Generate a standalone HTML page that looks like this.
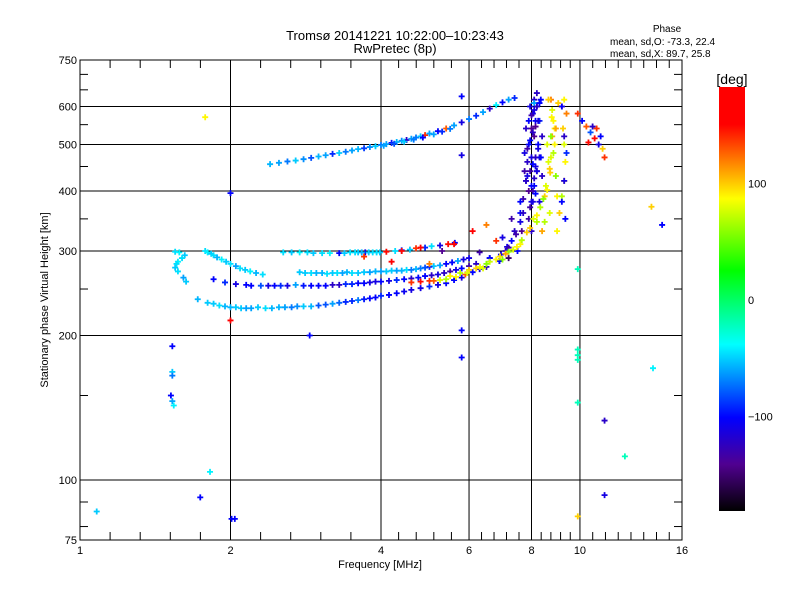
<!DOCTYPE html>
<html><head><meta charset="utf-8"><style>
body{margin:0;background:#fff}
svg{font-family:"Liberation Sans","DejaVu Sans",sans-serif}
</style></head><body>
<svg id="chart" width="800" height="600" viewBox="0 0 800 600" xmlns="http://www.w3.org/2000/svg">
<defs>
<linearGradient id="cb" x1="0" y1="1" x2="0" y2="0">
<stop offset="0" stop-color="#000000"/>
<stop offset="0.11" stop-color="#500090"/>
<stop offset="0.22" stop-color="#0000ff"/>
<stop offset="0.393" stop-color="#00ffff"/>
<stop offset="0.567" stop-color="#00ff00"/>
<stop offset="0.737" stop-color="#ffff00"/>
<stop offset="0.912" stop-color="#ff0000"/>
<stop offset="1" stop-color="#ff0000"/>
</linearGradient>
</defs>
<text x="395" y="40" font-size="13" text-anchor="middle">Tromsø 20141221 10:22:00–10:23:43</text>
<text x="395" y="53" font-size="13" text-anchor="middle">RwPretec (8p)</text>
<text x="667" y="32" font-size="10" text-anchor="middle">Phase</text>
<text x="610" y="45" font-size="10">mean, sd,O: -73.3, 22.4</text>
<text x="610" y="57" font-size="10">mean, sd,X:  89.7, 25.8</text>
<g id="grid"></g>
<g id="marks"></g>
<rect x="80" y="60" width="602" height="480" fill="none" stroke="#000" stroke-width="1"/>
<g id="axes"></g>
<text x="380" y="568" font-size="11" text-anchor="middle">Frequency [MHz]</text>
<text transform="translate(48,300) rotate(-90)" font-size="11" text-anchor="middle">Stationary phase Virtual Height [km]</text>
<rect x="719" y="87" width="26" height="424" fill="url(#cb)"/>
<text x="732" y="84" font-size="14" text-anchor="middle">[deg]</text>
<g id="cbticks"></g>
</svg>
<script>
const xTicks=[1,2,4,6,8,10,16];
const xGrid=[2,4,6,8,10];
const yTicks=[75,100,200,300,400,500,600,750];
const yGrid=[100,200,300,400,500,600];
const yMinor=[80,90,150,250,350,450,550,650,700];
const cbTicks=[100,0,-100];

const upperF=[2.4,2.5,2.6,2.7,2.8,2.9,3.0,3.1,3.2,3.3,3.4,3.5,3.6,3.7,3.8,3.9,4.0,4.1,4.2,4.3,4.4,4.5,4.6,4.7,4.8,4.9,5.0,5.2,5.4,5.6,5.8,6.0,6.2,6.4,6.6,6.8,7.0,7.2,7.4,4.05,4.25,4.45,4.65,4.85,5.1,5.3,5.5];
const upperH=[455,458,461,463,466,469,472,475,478,480,483,486,489,491,494,496,499,501,504,506,509,511,514,517,520,523,527,533,540,548,556,565,574,584,594,604,612,620,625,497,502,507,512,517,525,532,539];
const upperP=[-55,-60,-70,-50,-65,-80,-55,-60,-90,-50,-70,-60,-55,-85,-65,-50,-70,-60,-95,-55,-65,-120,-60,-70,-50,140,-60,-100,130,-60,-110,-70,-90,-60,-120,-40,-100,-60,-90,-60,-80,-50,-70,-100,-60,-90,-70];

const cuspF=[1.55,1.58,1.62,1.60,1.57,1.55,1.57,1.61,1.63,1.56,1.78,1.80,1.83,1.85,1.88,1.92,1.96,2.0,2.05,2.09,2.14,2.19,2.25,2.32];
const cuspH=[299,298,294,290,285,277,272,264,259,282,300,298,296,294,291,288,285,282,279,276,274,272,270,268];
const cuspP=[-45,-40,-50,-45,-40,-50,-45,-60,-50,-45,-45,-40,-50,-45,-55,-40,-50,-45,-60,-45,-50,-40,-55,-45];

const row1F=[2.55,2.65,2.75,2.85,2.93,3.05,3.16,3.3,3.47,3.6,3.72,3.85,3.98,4.1,4.27,4.4,4.57,4.7,4.9,5.05,5.25,5.45,5.62,3.38,3.55,3.66,3.78,3.92];
const row1H=[298,298,298,298,297,297,297,297,298,298,298,298,298,299,300,301,302,304,305,307,308,310,312,297,298,298,298,298];
const row1P=[-45,-50,-40,-45,-50,-45,-40,-100,-45,-50,-110,-45,-50,150,-45,-100,-50,140,-90,-45,-110,150,-100,-50,-45,-55,-50,-45];

const row2F=[2.75,2.9,3.05,3.2,3.35,3.5,3.7,3.9,4.1,4.3,4.5,4.7,4.9,5.1,5.4,5.7,6.0,3.12,3.42,3.8,4.2,4.6,2.82,2.97,3.27,3.6,4.0,4.4,4.8,5.0,5.25,5.55,5.85];
const row2H=[271,270,270,270,270,270,271,272,272,273,274,275,277,279,282,286,290,269,271,271,273,274,270,270,270,270,272,273,276,278,280,284,288];
const row2P=[-50,-45,-55,-50,-60,-45,-50,-55,-50,-60,-45,-55,-80,-50,-100,-60,-110,-45,-55,-60,-50,-70,-50,-55,-45,-50,-60,-55,-70,-90,-60,-100,-110];

const row3F=[1.85,1.95,2.05,2.15,2.3,2.45,2.6,2.8,3.0,3.2,3.4,3.6,3.8,4.0,4.3,4.6,4.9,5.2,5.5,5.8,6.2,6.6,2.7,3.1,3.5,3.9,4.45,5.05,2.2,2.38,2.52,2.9,3.3,3.7,4.15,4.75,5.35,5.65,6.0];
const row3H=[262,258,256,255,254,254,254,254,254,255,256,257,258,259,261,263,266,268,272,276,282,290,255,254,256,259,262,267,254,254,254,254,255,257,260,264,270,274,279];
const row3P=[-100,-90,-110,-100,-80,-100,-110,-95,-100,-120,-90,-100,-110,-100,-90,-120,-100,-110,-130,-100,-120,-110,-60,-100,-90,-110,-100,-120,-100,-110,-90,-100,-120,-100,-110,-100,-120,-110,-130];

const row4F=[1.72,1.8,1.9,2.0,2.1,2.2,2.35,2.5,2.65,2.8,3.0,3.2,3.4,3.6,3.8,4.0,4.3,4.6,5.0,5.4,5.8,6.1,6.5,6.9,2.27,2.57,2.9,3.3,3.7,4.15,4.8,5.6,1.85,1.95,2.05,2.15,2.42,2.72,3.1,3.5,3.9,4.45,5.2,6.3];
const row4H=[238,234,231,229,228,228,228,229,229,230,231,233,235,237,239,242,245,249,253,257,264,271,278,286,229,229,230,234,238,243,251,261,233,230,229,228,228,230,232,236,240,247,255,275];
const row4P=[-55,-50,-45,-55,-50,-60,-45,-55,-70,-50,-80,-60,-90,-70,-100,-90,-100,-110,-90,-100,-110,-100,-120,-100,-50,-60,-55,-75,-95,-100,-110,-100,-50,-55,-50,-60,-55,-65,-80,-90,-100,-105,-110,-110];

const oRiseF=[6.9,7.15,7.4,7.6,7.7,7.8,7.85,7.9,8.0,8.05,8.1,6.6,7.0,7.3,7.6,7.8,8.0,8.1,8.15,8.2,7.9,8.0,8.1,8.2,8.3,8.25,8.15,8.05,8.3,8.4,7.95,8.35,8.2,8.1,7.75,8.0,8.3,7.5,7.2,7.65];
const oRiseH=[286,306,330,360,385,420,460,500,540,580,620,290,320,350,380,420,470,520,560,600,350,380,410,440,470,500,450,400,560,520,600,620,640,610,440,330,380,300,305,330];
const oRiseP=[-100,-110,-120,-100,-130,-110,-120,-100,-140,-110,-120,-100,-110,-130,-100,-120,-110,-140,-100,-120,-130,-110,-100,-140,-120,-100,-110,-130,-90,-120,-110,-100,-120,-60,-130,-120,-110,-100,-130,-140];

const oBandF=[7.75,7.85,7.95,8.05,8.15,8.25,7.8,7.9,8.0,8.1,8.2,8.3,7.85,7.95,8.05,8.15,8.25,7.9,8.0,8.1,8.2,7.95,8.05,8.15,7.7,7.6,7.45,7.3,7.1,6.95,8.35,8.4];
const oBandH=[480,490,510,530,545,560,540,560,575,590,600,610,430,440,455,470,490,400,410,425,440,370,380,395,360,345,325,315,300,295,470,430];
const oBandP=[-110,-130,-100,-120,-140,-110,-120,-100,-130,-110,-120,-100,-110,-130,-100,-120,-110,-140,-100,-120,-110,-130,-110,-100,-120,-110,-130,-100,-120,-110,-100,-120];

const xModeF=[4.6,4.8,5.0,5.1,5.25,5.5,5.76,6.0,6.31,6.6,6.92,7.2,7.48,7.83,8.07,8.33,8.6,8.72,8.75,8.8,8.78,8.75,5.9,6.4,7.0,7.6,8.2,8.5,8.65,8.9];
const xModeH=[258,259,260,260,261,266,270,274,278,285,292,299,306,328,350,370,402,437,470,520,570,620,268,276,288,310,345,390,460,540];
const xModeP=[140,150,140,130,80,90,70,100,85,75,95,60,90,100,80,70,90,100,80,110,90,120,130,80,60,90,70,100,80,90];

const xBandF=[5.4,5.65,5.95,6.2,6.5,6.8,7.1,7.35,7.65,7.95,8.2,8.45,8.55,8.7,8.85,8.9,8.95,8.8,8.65,8.95,9.0,8.7,8.5,8.4,9.05,8.85,8.6,8.75];
const xBandH=[262,265,270,276,282,288,296,302,316,335,356,385,410,445,480,500,540,590,620,430,390,360,345,330,610,560,500,520];
const xBandP=[70,90,80,100,60,90,110,80,70,100,90,60,80,100,70,90,110,80,100,60,90,80,70,110,100,90,80,60];

const x2F=[9.0,9.1,9.2,9.3,9.35,9.3,9.25,9.4,9.3,9.2,9.2,9.3,9.35,9.4,9.3,9.2];
const x2H=[330,360,390,420,460,500,540,580,620,600,380,420,350,480,520,600];
const x2P=[90,100,70,110,90,80,100,120,90,140,-100,-110,-100,-90,-120,-100];

const farF=[9.9,10.1,10.3,10.5,10.7,10.9,11.1,11.2,10.6,10.4,10.8,11.0];
const farH=[580,560,545,530,515,500,490,470,545,505,540,520];
const farP=[140,-100,130,-80,160,-110,100,140,-120,150,140,-100];

const scatF=[1.08,1.74,1.82,2.01,2.04,1.53,1.53,1.53,1.52,1.53,1.54,1.78,2.0,5.8,5.8,5.8,9.9,9.9,9.9,9.9,9.9,9.9,11.2,12.3,11.2,13.9,14.0,14.6,2.88,2.0,4.4,4.8,5.3,5.6,6.1,4.2,3.7,5.0,6.3,6.8,7.2,6.5,5.8];
const scatH=[86,92,104,83,83,190,168,165,150,146,143,570,396,205,180,475,275,187,182,178,145,84,133,112,93,371,171,340,200,215,300,305,300,310,330,285,292,282,298,315,290,340,630];
const scatP=[-50,-100,-40,-100,-100,-100,-50,-70,-100,-60,-40,90,-100,-100,-100,-110,-20,-20,-20,-20,-20,100,-120,-20,-110,100,-40,-100,-100,170,150,160,-140,150,160,170,140,120,-130,140,-150,120,-100];

const groups=[[upperF,upperH,upperP],[cuspF,cuspH,cuspP],[row1F,row1H,row1P],[row2F,row2H,row2P],[row3F,row3H,row3P],[row4F,row4H,row4P],[oRiseF,oRiseH,oRiseP],[oBandF,oBandH,oBandP],[xModeF,xModeH,xModeP],[xBandF,xBandH,xBandP],[x2F,x2H,x2P],[farF,farH,farP],[scatF,scatH,scatP]];

const NS='http://www.w3.org/2000/svg';
function fx(f){return 80+602*Math.log(f)/Math.log(16);}
function fy(h){return 540-480*Math.log10(h/75);}
function cy(p){return 300-1.165*p;}
const stops=[[-180,[0,0,0]],[-140,[80,0,144]],[-100,[0,0,255]],[-37,[0,255,255]],[26,[0,255,0]],[88,[255,255,0]],[152,[255,0,0]],[190,[255,0,0]]];
function col(p){
  for(let i=0;i<stops.length-1;i++){
    const a=stops[i],b=stops[i+1];
    if(p<=b[0]){const t=Math.max(0,(p-a[0])/(b[0]-a[0]));
      const c=a[1].map((v,k)=>Math.round(v+(b[1][k]-v)*t));return 'rgb('+c.join(',')+')';}
  }
  return 'rgb(255,0,0)';
}
function mk(tag,attrs,parent){const e=document.createElementNS(NS,tag);for(const k in attrs)e.setAttribute(k,attrs[k]);parent.appendChild(e);return e;}

const grid=document.getElementById('grid');
xGrid.forEach(v=>{const l=mk('line',{x1:fx(v),x2:fx(v),y1:60,y2:540,stroke:'#000','stroke-width':1},grid);

});
yGrid.forEach(v=>{const l=mk('line',{x1:80,x2:682,y1:fy(v),y2:fy(v),stroke:'#000','stroke-width':1},grid);

});

const axes=document.getElementById('axes');
xTicks.forEach(v=>{const t=mk('text',{x:fx(v),y:554,'font-size':11,'text-anchor':'middle'},axes);t.textContent=v;

});
yTicks.forEach(v=>{const t=mk('text',{x:77,y:fy(v)+4,'font-size':11,'text-anchor':'end'},axes);t.textContent=v;

});
for(let i=0;i<xTicks.length-1;i++){
  const a=fx(xTicks[i]),b=fx(xTicks[i+1]),n=xTicks[i+1]-xTicks[i]>=4?8:5;
  for(let j=1;j<n;j++){const x=a+(b-a)*j/n;
    const l1=mk('line',{x1:x,x2:x,y1:60,y2:68,stroke:'#000'},axes);
    
    
    const l2=mk('line',{x1:x,x2:x,y1:540,y2:532,stroke:'#000'},axes);
    
    }
}
yMinor.forEach(v=>{const y=fy(v);
  const l1=mk('line',{x1:80,x2:88,y1:y,y2:y,stroke:'#000'},axes);
  
  
  const l2=mk('line',{x1:682,x2:674,y1:y,y2:y,stroke:'#000'},axes);
  
  });

const cbt=document.getElementById('cbticks');
cbTicks.forEach(v=>{const t=mk('text',{x:748,y:cy(v)+4,'font-size':11},cbt);t.textContent=(v<0?'−':'')+Math.abs(v);

});

const marks=document.getElementById('marks');
groups.forEach(g=>{
  const F=g[0],H=g[1],P=g[2];
  for(let i=0;i<F.length;i++){
    const x=fx(F[i]),y=fy(H[i]),c=col(P[i]);
    const p=mk('path',{d:'M'+(x-3)+' '+y+'h6M'+x+' '+(y-3)+'v6',stroke:c,'stroke-width':1.8,fill:'none'},marks);
    
    
  }
});
</script>
</body></html>
